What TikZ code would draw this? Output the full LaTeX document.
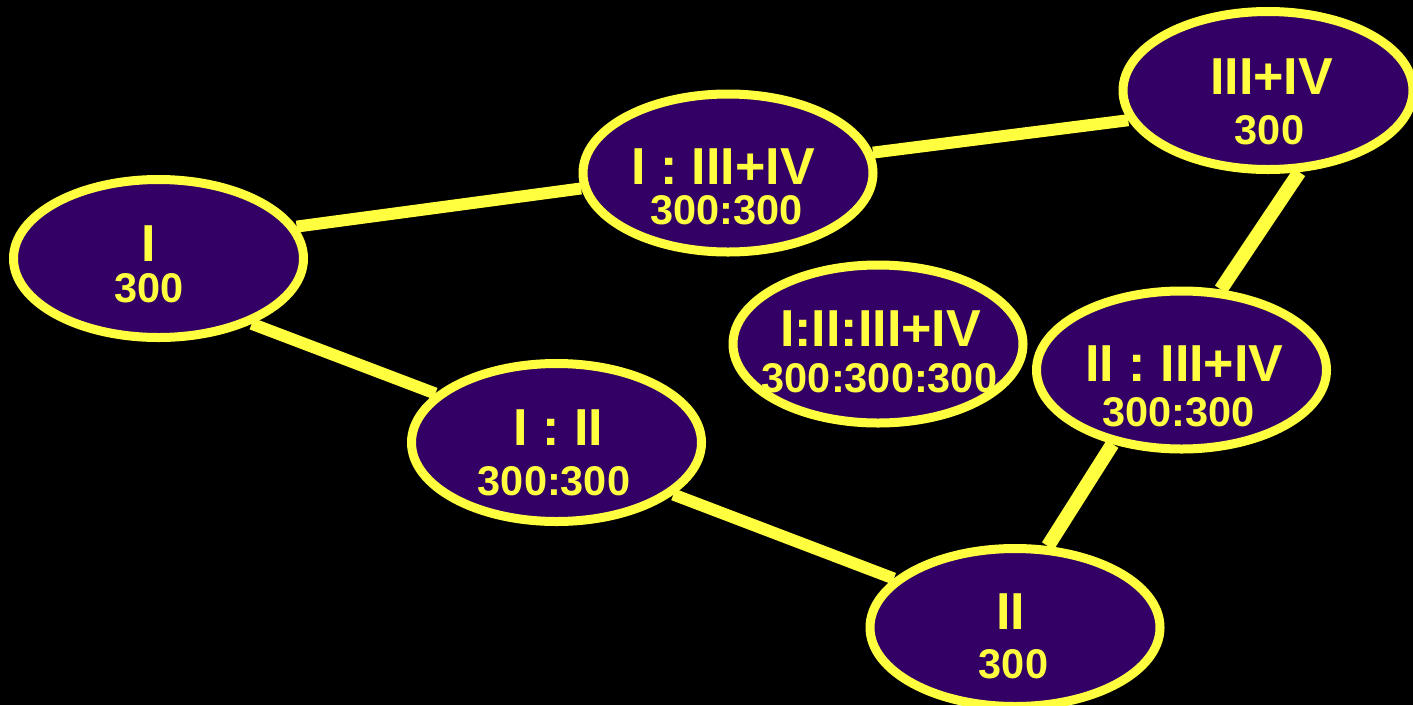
\documentclass[tikz,border=0pt]{standalone}
\usepackage{fontspec}
\setmainfont{Liberation Sans}
\usetikzlibrary{shapes.geometric,backgrounds}
\definecolor{bubble}{RGB}{51,0,102}
\definecolor{ylw}{RGB}{255,255,64}
\tikzset{
  bub/.style={ellipse, draw=ylw, fill=bubble, line width=9pt, inner sep=0pt,
              minimum width=290pt, minimum height=158pt},
  big/.style={text=ylw, anchor=base, inner sep=0pt, font=\fontsize{52}{52}\selectfont\bfseries},
  small/.style={text=ylw, anchor=base, inner sep=0pt, font=\fontsize{41.5}{41.5}\selectfont\bfseries},
  link/.style={draw=ylw, line width=12pt},
  steeplink/.style={draw=ylw, line width=14pt}
}
\begin{document}
\begin{tikzpicture}[x=1pt,y=-1pt]
\useasboundingbox (0,0) rectangle (1413,705);
\node[bub] (nI)   at (158.5,258.5) {};
\node[bub] (nA)   at (728,173) {};
\node[bub] (nB)   at (1268,90.5) {};
\node[bub] (nC)   at (878,344) {};
\node[bub] (nD)   at (1181.5,370) {};
\node[bub] (nE)   at (556.5,442.5) {};
\node[bub] (nF)   at (1015,627.5) {};
\begin{scope}[on background layer]
\fill[black] (0,0) rectangle (1413,705);
\draw[link] (nI.13.6) -- (nA.186.7);
\draw[link] (nA.8) -- (nB.192);
\draw[steeplink] (nB.-69.1) -- (nD.64.3);
\draw[steeplink] (nD.227.7) -- (nF.68.2);
\draw[link] (nI.-35) -- (nE.158.6);
\draw[link] (nE.-24.3) -- (nF.158.3);
\end{scope}
\node[big]   (tI1) at (149,261) {I};
\node[small] (tI2) at (149,302) {300};
\node[big]   (tA1) at (723,184) {I : III+IV};
\node[small] (tA2) at (726.5,224) {300:300};
\node[big]   (tB1) at (1271.5,94) {III+IV};
\node[small] (tB2) at (1269.5,144) {300};
\node[big]   (tC1) at (880.5,346) {I:II:III+IV};
\node[small] (tC2) at (879.5,392) {300:300:300};
\node[big]   (tD1) at (1184.5,381) {II : III+IV};
\node[small] (tD2) at (1178.5,426) {300:300};
\node[big]   (tE1) at (558.5,445) {I : II};
\node[small] (tE2) at (554,495) {300:300};
\node[big]   (tF1) at (1010.5,629) {II};
\node[small] (tF2) at (1013.5,678) {300};
\end{tikzpicture}
\end{document}
